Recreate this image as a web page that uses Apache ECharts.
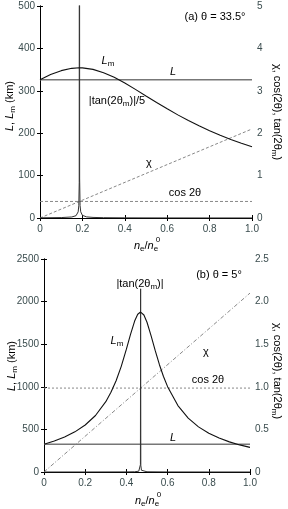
<!DOCTYPE html>
<html><head><meta charset="utf-8">
<script src="https://cdn.jsdelivr.net/npm/echarts@6/dist/echarts.min.js"></script>
<style>html,body{margin:0;padding:0;background:#fff}#c{width:288px;height:509px}</style>
</head><body><div id="c"></div>
<script>
// Panel (a) theta = 33.5 deg
var xTicks = [0, 0.2, 0.4, 0.6, 0.8, 1.0];
var aLmX = [0,0.05,0.1,0.15,0.186,0.2,0.25,0.3,0.35,0.4,0.45,0.5,0.55,0.6,0.65,0.7,0.75,0.8,0.85,0.9,0.95,1.0];
var aLmY = [326,338.2,347.5,353.0,354.2,354.0,350.5,342.8,331.7,318.3,303.4,287.9,272.5,257.5,243.2,229.8,217.3,205.8,195.1,185.3,176.3,167.9];
var aL = 326;
var aChiX = [0, 1];
var aChiY = [0, 2.1];
var aCos = 0.39;
var aTanX = [0,0.1,0.15,0.17,0.18,0.183,0.185,0.186,0.187,0.189,0.192,0.2,0.22,0.25,0.3,0.4,0.5,0.6,0.8,1.0];
var aTanY = [0.47,1.02,2.43,5.46,14.5,28.8,83.7,1841,92,29.7,14.7,6.28,2.58,1.37,0.77,0.41,0.28,0.21,0.14,0.11];
// Panel (b) theta = 5 deg
var bLmX = [0,0.05,0.1,0.15,0.2,0.25,0.3,0.325,0.35,0.375,0.4,0.42,0.44,0.455,0.469,0.485,0.5,0.52,0.54,0.56,0.58,0.6,0.65,0.7,0.75,0.8,0.85,0.9,0.95,1.0];
var bLmY = [326,363.5,410.6,471.1,551.7,663.3,825.3,935.1,1071.6,1240.3,1441.8,1615.5,1771.8,1851.1,1877.3,1843.0,1757.6,1597.5,1424.0,1262.2,1121.3,1001.8,780.0,632.6,529.9,455.0,398.1,353.7,318.0,288.8];
var bL = 326;
var bChiX = [0, 1];
var bChiY = [0, 2.1];
var bCos = 0.985;
var bTanX = [0,0.2,0.4,0.44,0.46,0.465,0.468,0.469,0.470,0.473,0.48,0.5,0.6,0.8,1.0];
var bTanY = [0.18,0.31,1.2,2.86,9.23,20.9,86.4,2150,79.3,20.5,7.49,2.66,0.63,0.25,0.16];

function pairs(xs, ys){ return xs.map(function(x,i){ return [x, ys[i]]; }); }

var FONT = 'Liberation Sans, Arial, sans-serif';
var LBL = '#3a4c4e';
var TF = 10;
function xFmt(v){ return v === 0 ? '0' : v.toFixed(1); }

function xAxes(g){
  return [
    {gridIndex:g, type:'value', min:0, max:1, interval:0.2,
     axisLine:{lineStyle:{color:'#000',width:1}},
     axisTick:{inside:true,length:3,lineStyle:{color:'#000'}},
     axisLabel:{color:LBL,fontSize:TF,fontFamily:FONT,margin:6,formatter:xFmt},
     splitLine:{show:false}},
    {gridIndex:g, type:'value', position:'top', min:0, max:1, interval:0.2,
     axisLine:{lineStyle:{color:'#000',width:1}},
     axisTick:{inside:true,length:3,lineStyle:{color:'#000'}},
     axisLabel:{show:false}, splitLine:{show:false}}
  ];
}
function yAxes(g, lmax, lint, rmax, rint, rfmt){
  return [
    {gridIndex:g, type:'value', min:0, max:lmax, interval:lint,
     axisLine:{show:true,lineStyle:{color:'#000',width:1}},
     axisTick:{show:true,inside:true,length:3,lineStyle:{color:'#000'}},
     axisLabel:{color:LBL,fontSize:TF,fontFamily:FONT,margin:5,formatter:function(v){return String(v);}},
     splitLine:{show:false}},
    {gridIndex:g, type:'value', position:'right', min:0, max:rmax, interval:rint,
     axisLine:{show:true,lineStyle:{color:'#000',width:1}},
     axisTick:{show:true,inside:true,length:3,lineStyle:{color:'#000'}},
     axisLabel:{color:LBL,fontSize:TF,fontFamily:FONT,margin:5,formatter:rfmt},
     splitLine:{show:false}}
  ];
}

function line(name, xi, yi, data, color, width, type, z){
  return {name:name, type:'line', xAxisIndex:xi, yAxisIndex:yi, data:data, showSymbol:false, symbol:'none',
    lineStyle:{color:color,width:width,type:type||'solid'}, z:z||2, clip:true, animation:false, silent:true};
}

var series = [
  line('aL',0,0,[[0,aL],[1,aL]],'#777',1.5),
  line('aChi',0,1,pairs(aChiX,aChiY),'#888',1,[3,2]),
  line('aCos',0,1,[[0,aCos],[1,aCos]],'#888',1,[3,2]),
  line('aTan',0,0,pairs(aTanX,aTanY),'#333',1,'solid',3),
  line('aLm',0,0,pairs(aLmX,aLmY),'#111',1.1,'solid',4),
  line('bL',2,2,[[0,bL],[1,bL]],'#777',1.5),
  line('bChi',2,3,pairs(bChiX,bChiY),'#888',1,[4,2,1,2]),
  line('bCos',2,3,[[0,bCos],[1,bCos]],'#888',1,[2,2]),
  line('bTan',2,2,pairs(bTanX,bTanY),'#333',1,'solid',3),
  line('bLm',2,2,pairs(bLmX,bLmY),'#111',1.1,'solid',4)
];

var rich = {
  i:{fontStyle:'italic',fontSize:11,fontFamily:FONT,fill:'#000'},
  n:{fontSize:11,fontFamily:FONT,fill:'#000'},
  sub:{fontSize:8,fontFamily:FONT,padding:[6,0,0,0],fill:'#000'},
  sup:{fontSize:8,fontFamily:FONT,padding:[0,0,6,0],fill:'#000'}
};
function txt(x,y,text,rot,align){
  return {type:'text', x:x, y:y, rotation:rot||0, z:10, silent:true,
    style:{text:text, rich:rich, font:'11px '+FONT, fill:'#000', align:align||'center', verticalAlign:'middle'}};
}
function plain(x,y,text,size){
  return {type:'text', x:x, y:y, z:10, silent:true,
    style:{text:text, font:size+'px '+FONT, fill:'#000', align:'center', verticalAlign:'middle'}};
}

var graphics = [
  // axis names
  txt(10,106,'{i|L}{n|, }{i|L}{sub|m}{n| (km)}',Math.PI/2),
  txt(277,112,'{n|χ, cos(2θ), tan(2θ}{sub|m}{n|)}',-Math.PI/2),
  txt(146,246,'{i|n}{sub|e}{n|/}{i|n}{sub|e}'),
  plain(158,240,'0',8),
  txt(12,366,'{i|L}{n|, }{i|L}{sub|m}{n| (km)}',Math.PI/2),
  txt(277,371,'{n|χ, cos(2θ), tan(2θ}{sub|m}{n|)}',-Math.PI/2),
  txt(147,501,'{i|n}{sub|e}{n|/}{i|n}{sub|e}'),
  plain(159,495,'0',8),
  // panel a annotations
  txt(215,17,'{n|(a) θ = 33.5°}'),
  txt(108,61,'{i|L}{sub|m}'),
  txt(173,72,'{i|L}'),
  txt(117,101,'{n||tan(2θ}{sub|m}{n|)|/5}'),
  txt(149,163,'{n|χ}'),
  txt(185,193,'{n|cos 2θ}'),
  // panel b annotations
  txt(140,284,'{n||tan(2θ}{sub|m}{n|)|}'),
  txt(219,275,'{n|(b) θ = 5°}'),
  txt(117,341,'{i|L}{sub|m}'),
  txt(206,352,'{n|χ}'),
  txt(208,380,'{n|cos 2θ}'),
  txt(173,438,'{i|L}')
];

var option = {
  animation:false,
  backgroundColor:'#fff',
  grid:[
    {left:40,right:36,top:6,height:212},
    {left:44,right:38,top:259,height:213}
  ],
  xAxis: xAxes(0).concat(xAxes(1)),
  yAxis: yAxes(0,500,100,5,1,function(v){return String(v);})
        .concat(yAxes(1,2500,500,2.5,0.5,function(v){return v===0?'0':v.toFixed(1);})),
  series: series,
  graphic: graphics
};
var chart = echarts.init(document.getElementById('c'), null, {renderer:'canvas'});
chart.setOption(option);
</script>
</body></html>
